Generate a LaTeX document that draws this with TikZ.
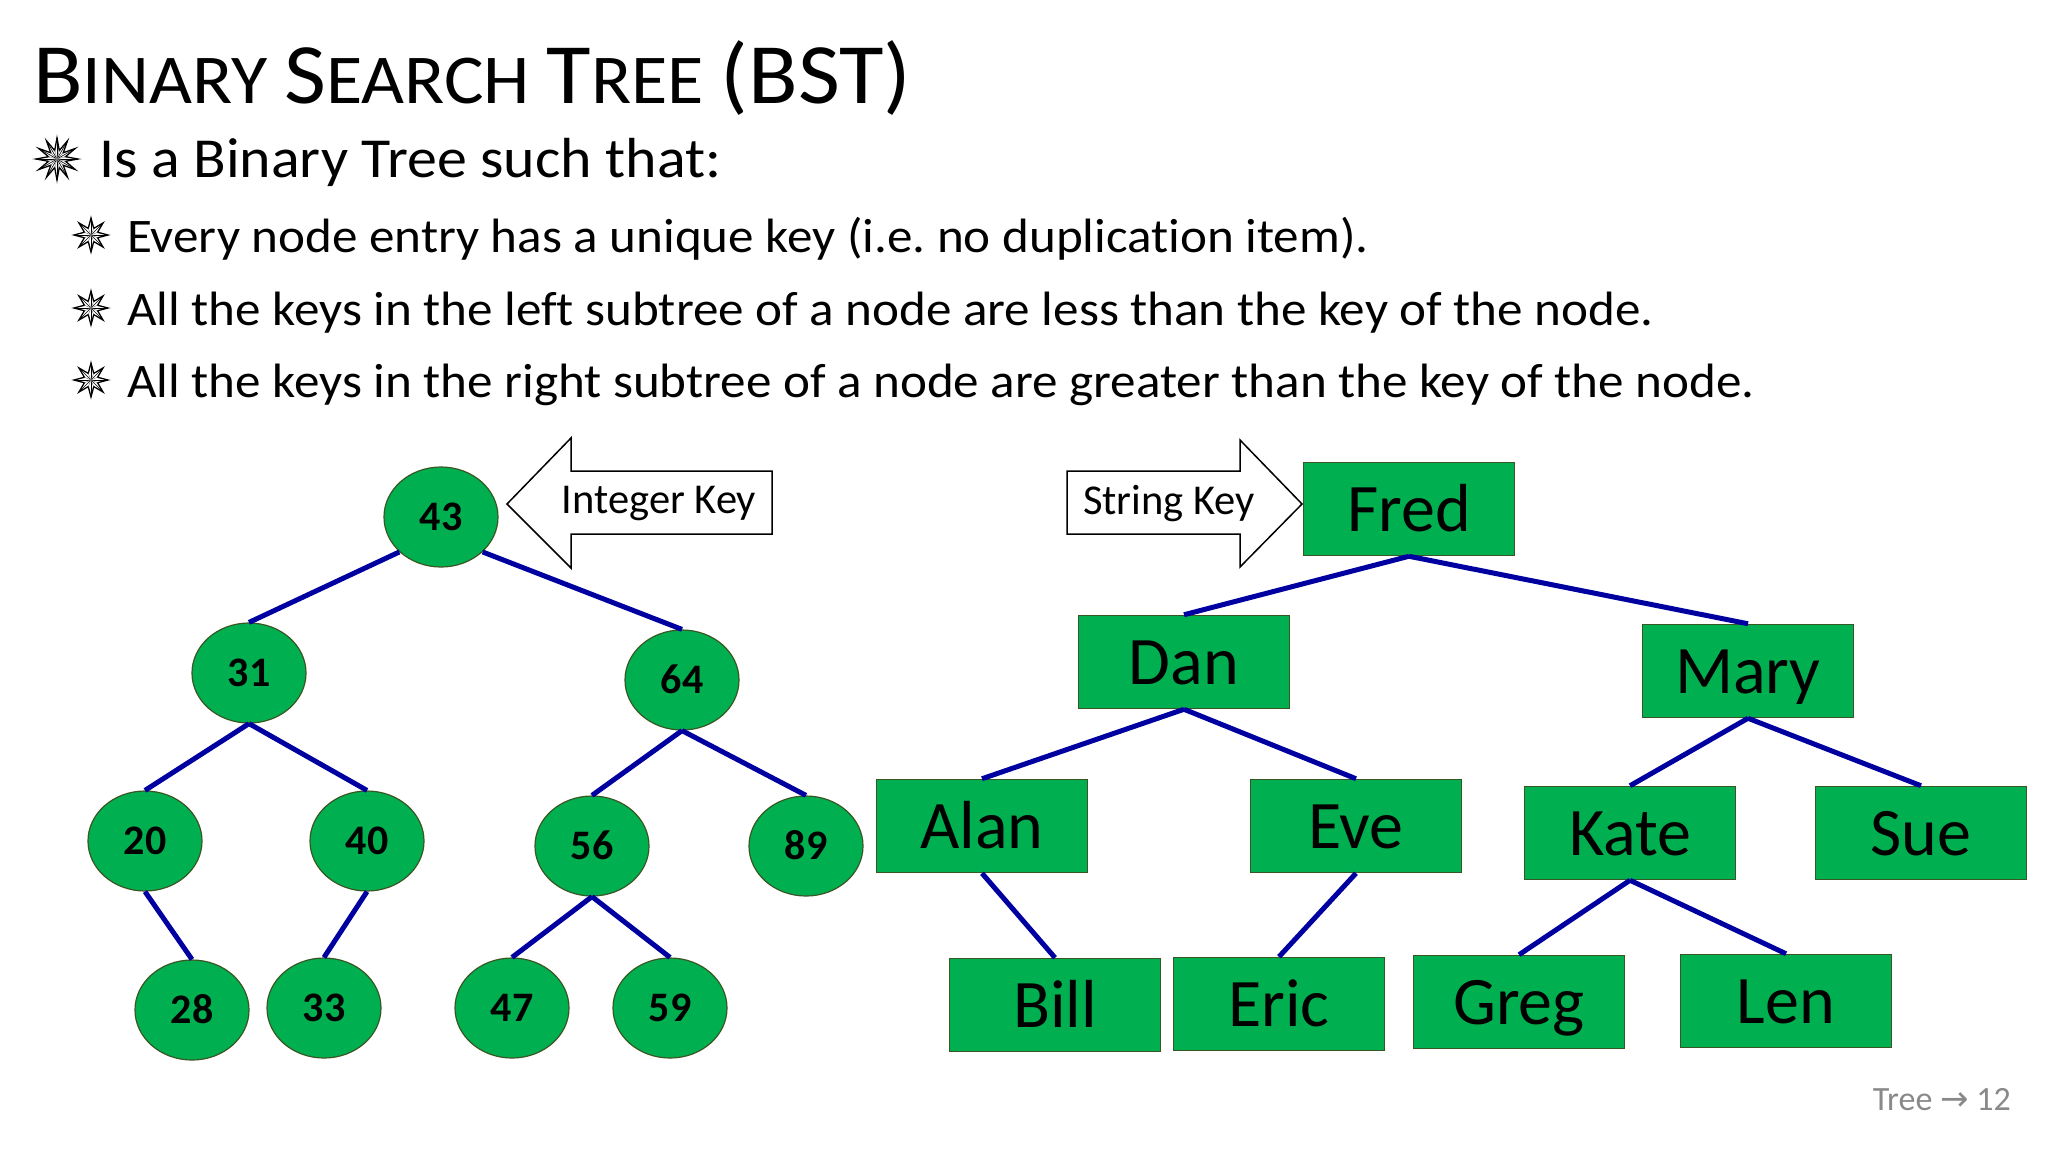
\documentclass[tikz,border=0pt]{standalone}
\usepackage{fontspec}
\setmainfont{Carlito}[Ligatures=NoCommon]
\newfontfamily\widefont{Carlito}[Ligatures=NoCommon, FakeStretch=1.06]
\newfontfamily\dejavu{DejaVu Sans}
\usetikzlibrary{shapes.geometric}
\frenchspacing
\definecolor{nodegreen}{HTML}{00B050}
\definecolor{nodeborder}{HTML}{385723}
\definecolor{edgeblue}{HTML}{0000A0}
\definecolor{footgray}{HTML}{898989}
\newcommand{\starbullet}[4]{%
  \begin{scope}[shift={(#1,#2)}]
    \draw[line width=1.3pt, fill=white, line join=miter]
      (90:#3) \foreach \i in {1,...,#4} { -- ({90+(\i-0.5)*360/#4}:{0.42*#3}) -- ({90+\i*360/#4}:#3) } -- cycle;
    \foreach \i in {1,...,#4} \draw[line width=0.6pt] (0,0) -- ({90+\i*360/#4}:#3);
    \foreach \i in {1,...,#4} \draw[line width=0.4pt, gray] (0,0) -- ({90+(\i-0.5)*360/#4}:{0.42*#3});
  \end{scope}}
\tikzset{
  numnode/.style={ellipse, draw=nodeborder, line width=1.2pt, fill=nodegreen,
    minimum width=114pt, minimum height=100pt, inner sep=0pt,
    text height=27pt, text depth=0pt,
    font=\fontsize{42}{48}\selectfont\bfseries},
  namenode/.style={rectangle, draw=nodeborder, line width=1.5pt, fill=nodegreen,
    minimum width=211pt, minimum height=93pt, inner sep=0pt,
    text height=44pt, text depth=0pt,
    font=\fontsize{68}{80}\selectfont},
  treeedge/.style={draw=edgeblue, line width=5pt},
  keyarrow/.style={draw=black, line width=1.5pt, fill=white, line join=miter},
  keytext/.style={inner sep=0pt, font=\fontsize{42.5}{48}\selectfont},
  line/.style={anchor=base west, inner sep=0pt}
}
\begin{document}
\begin{tikzpicture}[x=1pt, y=-1pt]
\useasboundingbox[fill=white] (0,0) rectangle (2048,1152);

% Title
\node[line, font=\widefont] (title) at (33,103)
  {\fontsize{86}{100}\selectfont B\fontsize{70}{80}\selectfont INARY
   \fontsize{86}{100}\selectfont S\fontsize{70}{80}\selectfont EARCH
   \fontsize{86}{100}\selectfont T\fontsize{70}{80}\selectfont REE
   \fontsize{86}{100}\selectfont (BST)};

% Bullets
\starbullet{57}{159}{21}{12}
\node[line, font=\widefont\fontsize{56.5}{66}\selectfont] (b0) at (99,177) {Is a Binary Tree such that:};
\starbullet{91}{235}{17}{8}
\node[line, font=\widefont\fontsize{48.2}{56}\selectfont] (b1) at (127,252) {Every node entry has a unique key (i.e. no duplication item).};
\starbullet{91}{308}{17}{8}
\node[line, font=\widefont\fontsize{48.2}{56}\selectfont] (b2) at (127,325) {All the keys in the left subtree of a node are less than the key of the node.};
\starbullet{91}{380}{17}{8}
\node[line, font=\widefont\fontsize{48.2}{56}\selectfont] (b3) at (127,397) {All the keys in the right subtree of a node are greater than the key of the node.};

% Integer tree
\node[numnode] (n43) at (441,517) {43};
\node[numnode] (n31) at (249,673) {31};
\node[numnode] (n64) at (682,680) {64};
\node[numnode] (n20) at (145,841) {20};
\node[numnode] (n40) at (367,841) {40};
\node[numnode] (n56) at (592,846) {56};
\node[numnode] (n89) at (806,846) {89};
\node[numnode] (n28) at (192,1010) {28};
\node[numnode] (n33) at (324,1008) {33};
\node[numnode] (n47) at (512,1008) {47};
\node[numnode] (n59) at (670,1008) {59};

\draw[treeedge] (n43.-140) -- (n31.north);
\draw[treeedge] (n43.-40) -- (n64.north);
\draw[treeedge] (n31.south) -- (n20.north);
\draw[treeedge] (n31.south) -- (n40.north);
\draw[treeedge] (n64.south) -- (n56.north);
\draw[treeedge] (n64.south) -- (n89.north);
\draw[treeedge] (n20.south) -- (n28.north);
\draw[treeedge] (n40.south) -- (n33.north);
\draw[treeedge] (n56.south) -- (n47.north);
\draw[treeedge] (n56.south) -- (n59.north);

% Integer Key arrow
\draw[keyarrow] (507,504) -- (571,438) -- (571,471) -- (772,471) -- (772,534) -- (571,534) -- (571,568) -- cycle;
\node[keytext] (intkey) at (659,504) {Integer Key};

% String tree
\node[namenode] (fred) at (1409,509) {Fred};
\node[namenode] (dan) at (1184,662) {Dan};
\node[namenode] (mary) at (1748,671) {Mary};
\node[namenode] (alan) at (982,826) {Alan};
\node[namenode] (eve) at (1356,826) {Eve};
\node[namenode] (kate) at (1630,833) {Kate};
\node[namenode] (sue) at (1921,833) {Sue};
\node[namenode] (bill) at (1055,1005) {Bill};
\node[namenode] (eric) at (1279,1004) {Eric};
\node[namenode] (greg) at (1519,1002) {Greg};
\node[namenode] (len) at (1786,1001) {Len};

\draw[treeedge] (fred.south) -- (dan.north);
\draw[treeedge] (fred.south) -- (mary.north);
\draw[treeedge] (dan.south) -- (alan.north);
\draw[treeedge] (dan.south) -- (eve.north);
\draw[treeedge] (mary.south) -- (kate.north);
\draw[treeedge] (mary.south) -- (sue.north);
\draw[treeedge] (alan.south) -- (bill.north);
\draw[treeedge] (eve.south) -- (eric.north);
\draw[treeedge] (kate.south) -- (greg.north);
\draw[treeedge] (kate.south) -- (len.north);

% String Key arrow
\draw[keyarrow] (1302,504) -- (1240,440) -- (1240,471) -- (1067,471) -- (1067,534) -- (1240,534) -- (1240,567) -- cycle;
\node[keytext] (strkey) at (1169,504) {String Key};

% Footer
\node[anchor=base east, inner sep=0pt, text=footgray, font=\fontsize{34}{40}\selectfont] (foot) at (2011,1110)
  {Tree {\dejavu\fontsize{34}{40}\selectfont →} 12};
\end{tikzpicture}
\end{document}
